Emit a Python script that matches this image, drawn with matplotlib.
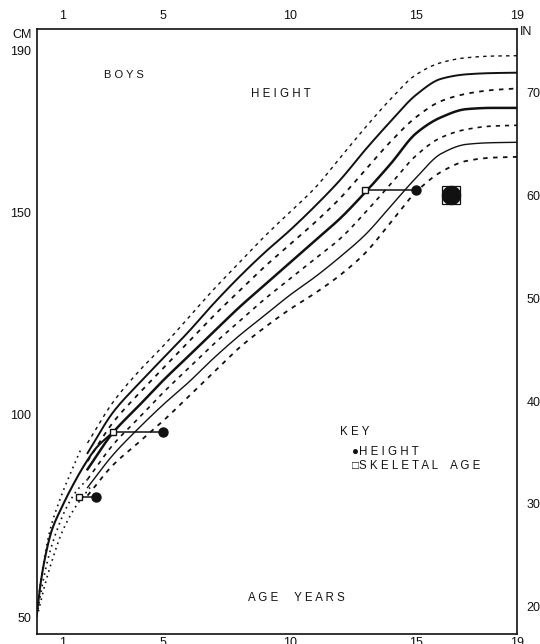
import numpy as np
import matplotlib
matplotlib.use("Agg")
import matplotlib.pyplot as plt

plt.rcParams["font.family"] = ["Liberation Sans", "DejaVu Sans"]

INK = "#111111"

# ---------- Data ----------
ages = [2, 3, 4, 5, 6, 7, 8, 9, 10, 11, 12, 13, 14, 15, 16, 17, 18, 19]
p97 = [93.0, 103.0, 110.5, 117.0, 124.0, 131.0, 137.5, 144.0, 150.0, 156.0,
       163.5, 171.0, 178.0, 184.0, 187.0, 188.2, 188.6, 188.7]
p90 = [90.5, 100.5, 107.5, 114.0, 120.5, 127.5, 134.0, 140.0, 145.5, 151.5,
       158.0, 165.5, 172.5, 179.0, 183.0, 184.1, 184.4, 184.5]
p75 = [88.5, 98.0, 105.0, 111.5, 118.0, 124.5, 130.5, 136.5, 142.0, 147.5,
       153.5, 160.5, 167.5, 173.5, 177.5, 179.3, 180.2, 180.6]
p50 = [86.5, 95.5, 102.0, 108.5, 114.5, 120.5, 126.5, 132.0, 137.5, 143.0,
       148.5, 155.0, 162.0, 169.5, 173.5, 175.5, 175.8, 175.8]
p25 = [84.0, 92.5, 99.0, 105.5, 111.5, 117.5, 123.0, 128.5, 133.5, 138.5,
       143.5, 150.0, 157.0, 164.0, 168.5, 170.5, 171.3, 171.5]
p10 = [82.0, 90.0, 96.5, 102.5, 108.0, 114.0, 119.5, 124.5, 129.5, 134.0,
       139.0, 144.5, 151.5, 158.5, 164.5, 166.8, 167.2, 167.3]
p03 = [80.0, 87.5, 93.0, 98.5, 104.5, 110.5, 116.5, 121.5, 126.0, 130.0,
       134.5, 140.0, 147.5, 155.0, 160.0, 162.7, 163.5, 163.7]

# infant segment (birth to ~2-3 yrs)
inf_hi_age = [0, 0.25, 0.51, 0.84, 1.31, 1.77]
inf_hi = [52.0, 63.0, 71.3, 77.9, 85.3, 91.9]
inf_mid_age = [0, 0.12, 0.32, 0.58, 0.98, 1.44, 1.9, 2.36, 3.0]
inf_mid = [51.0, 57.3, 64.7, 71.3, 77.1, 82.8, 87.8, 91.9, 95.6]
inf_lo_age = [0, 0.19, 0.45, 0.78, 1.17, 1.57, 2.0]
inf_lo = [50.5, 57.3, 64.7, 71.3, 77.1, 81.2, 84.0]
inf_lo2_age = [0, 0.25, 0.6, 0.98, 1.5, 2.1]
inf_lo2 = [50.0, 56.5, 64.0, 70.8, 77.0, 82.0]

# patient: skeletal age vs chronological age at same height
skel_age = [1.67, 3.0, 13.0]
chron_age = [2.32, 5.0, 15.0]
pt_height = [79.6, 95.8, 155.6]
final_age = [16.4]
final_height = [154.2]

x_ticks = [1, 5, 10, 15, 19]
cm_ticks = [50, 100, 150, 190]
in_ticks = [20, 30, 40, 50, 60, 70]


def smooth(x, y, n=400):
    # monotone cubic (PCHIP) just for drawing smooth curves through the points
    x = np.asarray(x, float)
    y = np.asarray(y, float)
    h = np.diff(x)
    d = np.diff(y) / h
    m = np.zeros_like(y)
    m[0], m[-1] = d[0], d[-1]
    for k in range(1, len(x) - 1):
        if d[k - 1] * d[k] <= 0:
            m[k] = 0.0
        else:
            w1 = 2 * h[k] + h[k - 1]
            w2 = h[k] + 2 * h[k - 1]
            m[k] = (w1 + w2) / (w1 / d[k - 1] + w2 / d[k])
    xs = np.linspace(x[0], x[-1], n)
    i = np.clip(np.searchsorted(x, xs) - 1, 0, len(x) - 2)
    t = (xs - x[i]) / h[i]
    ys = ((2 * t**3 - 3 * t**2 + 1) * y[i] + (t**3 - 2 * t**2 + t) * h[i] * m[i]
          + (-2 * t**3 + 3 * t**2) * y[i + 1] + (t**3 - t**2) * h[i] * m[i + 1])
    return xs, ys


fig = plt.figure(figsize=(5.4, 6.44), dpi=100)
fig.patch.set_facecolor("white")
ax = fig.add_axes([0.0685, 0.0155, 0.889, 0.9395])

# percentile curves: dashed 97/75/25/3, solid 90/50/10
for vals, lw, style in [(p97, 1.0, "dash"), (p90, 1.4, "solid"),
                        (p75, 1.3, "dash"), (p50, 1.8, "solid"),
                        (p25, 1.2, "dash"), (p10, 1.0, "solid"),
                        (p03, 1.3, "dash")]:
    xs, ys = smooth(ages, vals)
    if style == "dash":
        ax.plot(xs, ys, color=INK, linestyle=(0, (2.5, 3)), linewidth=lw)
    else:
        ax.plot(xs, ys, color=INK, linewidth=lw)

# infant curves
for a, v, style in [(inf_hi_age, inf_hi, "dot"), (inf_mid_age, inf_mid, "solid"),
                    (inf_lo_age, inf_lo, "dot"), (inf_lo2_age, inf_lo2, "dot")]:
    xs, ys = smooth(a, v)
    if style == "dot":
        ax.plot(xs, ys, color=INK, linestyle=(0, (1, 2.5)), linewidth=1.2)
    else:
        ax.plot(xs, ys, color=INK, linewidth=1.5)

# patient points
for sa, ca, hgt in zip(skel_age, chron_age, pt_height):
    ax.plot([sa, ca], [hgt, hgt], color=INK, linewidth=1.1, zorder=5)
ax.plot(chron_age, pt_height, "o", color=INK, markersize=6.5, zorder=6)
ax.plot(skel_age, pt_height, "s", markerfacecolor="white", markeredgecolor=INK,
        markersize=5, markeredgewidth=1.0, zorder=6)
ax.plot(final_age, final_height, "s", markerfacecolor="white", markeredgecolor=INK,
        markersize=13, markeredgewidth=0.9, zorder=6)
ax.plot(final_age, final_height, "o", color=INK, markersize=13, zorder=7)

# axes
ax.set_xlim(0, 19)
ax.set_ylim(45.8, 195.3)
ax.set_xticks(x_ticks)
ax.set_yticks(cm_ticks)
ax.tick_params(axis="x", length=0, labelsize=9, pad=2, colors=INK)
ax.tick_params(axis="y", length=0, labelsize=9, pad=4, colors=INK)
for s in ax.spines.values():
    s.set_color(INK)
    s.set_linewidth(1.2)

top = ax.secondary_xaxis("top")
top.set_xticks(x_ticks)
top.tick_params(length=0, labelsize=9, pad=5, colors=INK)
top.spines["top"].set_visible(False)

ax2 = ax.twinx()
ax2.set_ylim(45.8 / 2.54 - 0.68, 195.3 / 2.54 - 0.68)
ax2.set_yticks(in_ticks)
ax2.tick_params(axis="y", length=0, labelsize=9, pad=7, colors=INK)
for s in ax2.spines.values():
    s.set_visible(False)

ax.text(-0.01, 0.99, "CM", transform=ax.transAxes, ha="right", va="center",
        fontsize=9, color=INK)
ax.text(1.006, 0.995, "IN", transform=ax.transAxes, ha="left", va="center",
        fontsize=9, color=INK)

# chart labels
ax.text(3.44, 183.9, "B O Y S", ha="center", va="center", fontsize=8.0, color=INK)
ax.text(9.66, 179.2, "H E I G H T", ha="center", va="center", fontsize=8.3, color=INK)
ax.text(12.0, 95.8, "K E Y", ha="left", va="center", fontsize=8.3, color=INK)
ax.text(12.47, 90.8, "●H E I G H T", ha="left", va="center", fontsize=8.3,
        color=INK)
ax.text(12.47, 87.4, "□S K E L E T A L    A G E", ha="left", va="center",
        fontsize=8.3, color=INK)
ax.text(10.25, 54.7, "A G E     Y E A R S", ha="center", va="center",
        fontsize=8.3, color=INK)

fig.savefig("out.png", dpi=100, facecolor="white")
